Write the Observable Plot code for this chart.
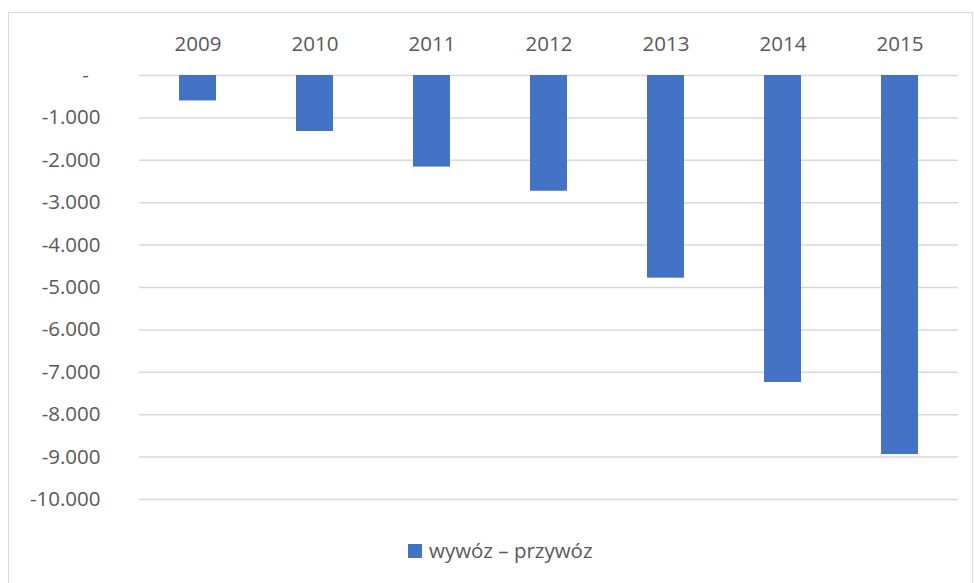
<!DOCTYPE html>
<html><head><meta charset="utf-8">
<script src="https://cdn.jsdelivr.net/npm/d3@7"></script>
<script src="https://cdn.jsdelivr.net/npm/@observablehq/plot@0.6"></script>
<style>
html,body{margin:0;padding:0;background:#fff;overflow:hidden;}
#wrap{position:relative;width:974px;height:583px;overflow:hidden;font-family:"Open Sans",sans-serif;color:#595959;}
#frame{position:absolute;left:8px;top:12px;width:965px;height:640px;border:1.5px solid #d9d9d9;box-sizing:border-box;}
#chart{position:absolute;left:0;top:0;}
#legend{position:absolute;left:408px;top:536px;display:flex;align-items:center;font-size:20.5px;white-space:nowrap;}
#legend .sw{width:14px;height:14px;background:#4472c4;margin-right:7px;margin-top:2px;}
</style>
</head><body>
<div id="wrap"><div id="frame"></div><div id="chart"></div><div id="legend"></div></div>
<script>
const years = ["2009", "2010", "2011", "2012", "2013", "2014", "2015"];
const values = [-600, -1320, -2160, -2730, -4780, -7240, -8940];
const yTicks = [0, -1000, -2000, -3000, -4000, -5000, -6000, -7000, -8000, -9000, -10000];
const seriesName = "wywóz – przywóz";

const data = years.map((y, i) => ({year: y, value: values[i]}));
const fmt = d => d === 0 ? "-\u2007" : "-" + d3.format(",")(-d).replace(/,/g, ".");

const chart = Plot.plot({
  width: 974,
  height: 583,
  marginTop: 75,
  marginLeft: 139,
  marginRight: 16,
  marginBottom: 84,
  x: {domain: years, paddingInner: 0.68, paddingOuter: 0.34},
  y: {domain: [-10000, 0]},
  style: {fontFamily: "Open Sans, sans-serif", fontSize: "20.5px", color: "#595959", background: "transparent"},
  marks: [
    Plot.ruleY(yTicks, {stroke: "#d9d9d9", strokeWidth: 1.5}),
    Plot.barY(data, {x: "year", y: "value", fill: "#4472c4"}),
    Plot.axisY(yTicks, {tickSize: 0, tickPadding: 39, tickFormat: fmt, label: null}),
    Plot.axisX({anchor: "top", tickSize: 0, tickPadding: 25, label: null})
  ]
});
document.getElementById("chart").appendChild(chart);
const lg = document.getElementById("legend");
lg.innerHTML = '<div class="sw"></div><span></span>';
lg.querySelector("span").textContent = seriesName;
</script>
</body></html>
